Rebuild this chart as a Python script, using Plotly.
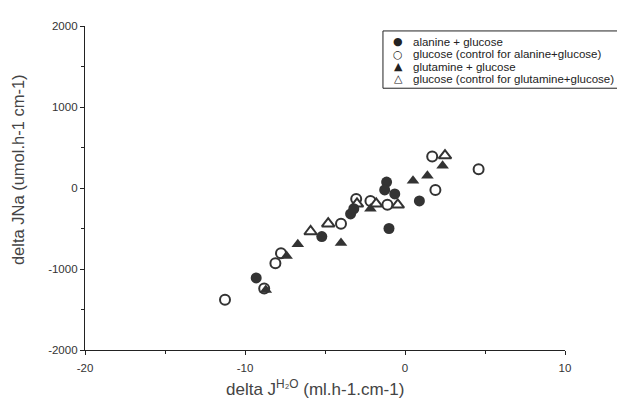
import plotly.graph_objects as go

# alanine + glucose (filled circles)
ala_x = [-9.3, -5.2, -3.4, -3.2, -1.15, -1.27, -0.64, -1.0, 0.9]
ala_y = [-1110, -600, -320, -256, 73, -24, -73, -500, -159]
# glucose (control for alanine+glucose) (open circles)
ctl_ala_x = [-11.25, -8.8, -8.1, -7.75, -4.0, -3.05, -2.16, -1.1, 1.9, 1.7, 4.6]
ctl_ala_y = [-1380, -1240, -930, -805, -440, -135, -160, -207, -24, 390, 232]
# glutamine + glucose (filled triangles)
gln_x = [-8.7, -7.4, -6.7, -4.0, -2.16, 0.5, 1.4, 2.35]
gln_y = [-1260, -840, -695, -680, -256, 90, 150, 275]
# glucose (control for glutamine+glucose) (open triangles)
ctl_gln_x = [-5.9, -4.8, -3.0, -1.8, -0.45, 2.5]
ctl_gln_y = [-537, -440, -195, -195, -207, 400]

legend_names = ["alanine + glucose",
                "glucose (control for alanine+glucose)",
                "glutamine + glucose",
                "glucose (control for glutamine+glucose)"]
legend_symbols = ["●", "○", "▲", "△"]

x_tickvals = [-20, -10, 0, 10]
x_ticktext = ["-20", "-10", "0", "10"]
y_tickvals = [-2000, -1000, 0, 1000, 2000]
y_ticktext = ["-2000", "-1000", "0", "1000", "2000"]

dark = "#333333"
fig = go.Figure()
fig.add_trace(go.Scatter(x=ctl_ala_x, y=ctl_ala_y, mode="markers", name=legend_names[1],
                         marker=dict(symbol="circle", size=10, color="white",
                                     line=dict(color=dark, width=2))))
fig.add_trace(go.Scatter(x=ctl_gln_x, y=ctl_gln_y, mode="markers", name=legend_names[3],
                         marker=dict(symbol="triangle-up", size=11, color="white",
                                     line=dict(color=dark, width=2))))
fig.add_trace(go.Scatter(x=ala_x, y=ala_y, mode="markers", name=legend_names[0],
                         marker=dict(symbol="circle", size=11, color=dark,
                                     line=dict(color=dark, width=0))))
fig.add_trace(go.Scatter(x=gln_x, y=gln_y, mode="markers", name=legend_names[2],
                         marker=dict(symbol="triangle-up", size=11, color=dark,
                                     line=dict(color=dark, width=0))))

# plot area in page pixels: x 85..557, y 22..350 (page has 8px body margin)
def px_x(p):
    return (p - 85) / 472.0

def px_y(p):
    return (350 - p) / 328.0

annotations = []
shapes = []
# legend box
shapes.append(dict(type="rect", xref="paper", yref="paper",
                   x0=px_x(378), x1=px_x(615), y0=px_y(85), y1=px_y(27),
                   line=dict(color="#222", width=1), fillcolor="white", layer="above"))
row_y = [38, 50.5, 63, 75.5]
for sym, name, ry in zip(legend_symbols, legend_names, row_y):
    annotations.append(dict(xref="paper", yref="paper", x=px_x(393), y=px_y(ry),
                            text=sym, showarrow=False, xanchor="center", yanchor="middle",
                            font=dict(size=11, color="#222",
                                      family="DejaVu Sans, sans-serif")))
    annotations.append(dict(xref="paper", yref="paper", x=px_x(406), y=px_y(ry),
                            text=name, showarrow=False, xanchor="left", yanchor="middle",
                            font=dict(size=11.5, color="#222",
                                      family="Liberation Sans, Arial, sans-serif")))
# axis titles
annotations.append(dict(xref="paper", yref="paper", x=px_x(19), y=px_y(167),
                        text="delta JNa (umol.h-1 cm-1)", textangle=-90, showarrow=False,
                        xanchor="center", yanchor="middle",
                        font=dict(size=16.5, color="#444")))
annotations.append(dict(xref="paper", yref="paper", x=px_x(311), y=px_y(388),
                        text="delta J<sup>H₂O</sup> (ml.h-1.cm-1)", showarrow=False,
                        xanchor="center", yanchor="middle",
                        font=dict(size=17, color="#444")))

fig.update_layout(
    width=617, height=391,
    margin=dict(l=77, r=60, t=14, b=49),
    paper_bgcolor="white", plot_bgcolor="white",
    font=dict(family="Liberation Sans, Arial, sans-serif", color="#222"),
    showlegend=False,
    shapes=shapes, annotations=annotations,
    xaxis=dict(range=[-20, 10], tickvals=x_tickvals, ticktext=x_ticktext,
               showgrid=False, zeroline=False, showline=True, linecolor="#222",
               linewidth=1.3, ticks="outside", ticklen=4, tickcolor="#222",
               tickfont=dict(size=11.5, color="#333"), ticklabelstandoff=3,
               minor=dict(tickvals=[-15, -5, 5], ticks="outside", ticklen=3,
                          tickcolor="#222", showgrid=False)),
    yaxis=dict(range=[-2000, 2000], tickvals=y_tickvals, ticktext=y_ticktext,
               showgrid=False, zeroline=False, showline=True, linecolor="#222",
               linewidth=1.3, ticks="outside", ticklen=4, tickcolor="#222",
               tickfont=dict(size=11.5, color="#333"),
               minor=dict(tickvals=[-1500, -500, 500, 1500], ticks="outside",
                          ticklen=3, tickcolor="#222", showgrid=False)),
)

fig.write_html("out.html")
